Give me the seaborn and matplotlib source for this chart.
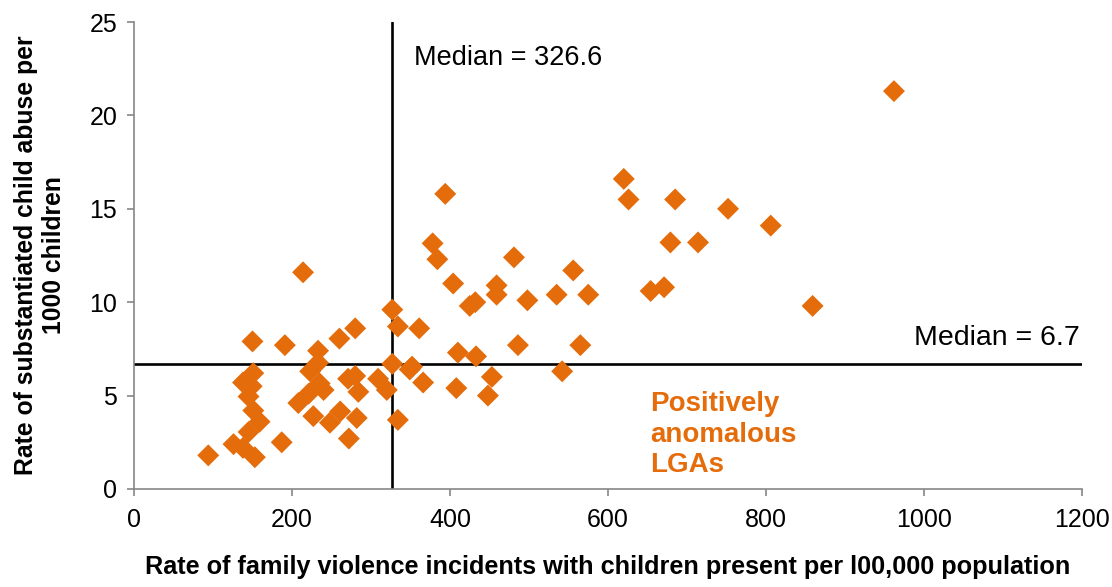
import seaborn as sns
import matplotlib.pyplot as plt
import pandas as pd

# family violence rate (per 100,000) vs substantiated child abuse rate (per 1000 children)
fv_rate = [94, 126, 138, 145, 153, 150, 151, 138, 149, 145, 151, 159, 187, 191,
           208, 214, 223, 221, 227, 233, 233, 235, 240, 248, 260, 261, 272, 271,
           280, 280, 282, 284, 309, 320, 327, 327,
           334, 334, 349, 352, 361, 366, 378, 384, 394, 404, 410, 408, 425, 432,
           433, 448, 453, 459, 459, 481, 486, 498, 535, 542, 556, 565, 575, 620,
           626, 654, 671, 679, 685, 714, 752, 806, 859, 962]
abuse_rate = [1.8, 2.4, 2.2, 3.05, 1.7, 7.9, 6.2, 5.7, 5.5, 4.95, 4.2, 3.6, 2.5, 7.7,
              4.6, 11.6, 6.3, 5.1, 3.9, 7.4, 6.75, 5.65, 5.3, 3.55, 8.05, 4.15, 2.7, 5.9,
              6.05, 8.6, 3.8, 5.2, 5.9, 5.3, 9.6, 6.7,
              8.7, 3.7, 6.4, 6.55, 8.6, 5.7, 13.15, 12.3, 15.8, 11.0, 7.3, 5.4, 9.8, 10.0,
              7.1, 5.0, 6.0, 10.9, 10.4, 12.4, 7.7, 10.1, 10.4, 6.3, 11.7, 7.7, 10.4, 16.6,
              15.5, 10.6, 10.8, 13.2, 15.5, 13.2, 15.0, 14.1, 9.8, 21.3]
median_x = 326.6
median_y = 6.7

df = pd.DataFrame({"fv": fv_rate, "abuse": abuse_rate})

sns.set_theme(style="ticks")
plt.rcParams['font.family'] = ['Liberation Sans', 'DejaVu Sans']
plt.rcParams['text.color'] = "black"
plt.rcParams['axes.labelcolor'] = "black"

orange = "#E46C0A"
grey = "#868686"

fig = plt.figure(figsize=(11.12, 5.87), dpi=100)
ax = fig.add_axes([0.1205, 0.167, 0.8525, 0.7955])

ax.axvline(median_x, color="black", lw=1.9, zorder=1)
ax.axhline(median_y, color="black", lw=1.9, zorder=1)

sns.scatterplot(data=df, x="fv", y="abuse", marker="D", s=125, color=orange,
                edgecolor="none", ax=ax, zorder=3)

ax.set_xlim(0, 1200)
ax.set_ylim(0, 25)
ax.set_xticks(range(0, 1201, 200))
ax.set_yticks(range(0, 26, 5))

for side in ["top", "right"]:
    ax.spines[side].set_visible(False)
for side in ["left", "bottom"]:
    ax.spines[side].set_color(grey)
    ax.spines[side].set_linewidth(1.2)
ax.tick_params(colors=grey, labelcolor="black", labelsize=18, length=5, width=1.2, pad=7)
ax.tick_params(axis="x", pad=9)

ax.set_xlabel("Rate of family violence incidents with children present per l00,000 population",
              fontsize=18.2, fontweight="bold", labelpad=16)
ax.set_ylabel("Rate of substantiated child abuse per\n1000 children",
              fontsize=17.8, fontweight="bold", labelpad=17)

ax.text(median_x + 28, 23.1, "Median = 326.6", fontsize=19.5, va="center", ha="left")
ax.text(1197, median_y + 1.4, "Median = 6.7", fontsize=20.5, va="center", ha="right")
ax.text(653, 2.9, "Positively\nanomalous\nLGAs", fontsize=20, fontweight="bold",
        color=orange, va="center", ha="left", linespacing=1.22)

plt.savefig("out.png", dpi=100)
